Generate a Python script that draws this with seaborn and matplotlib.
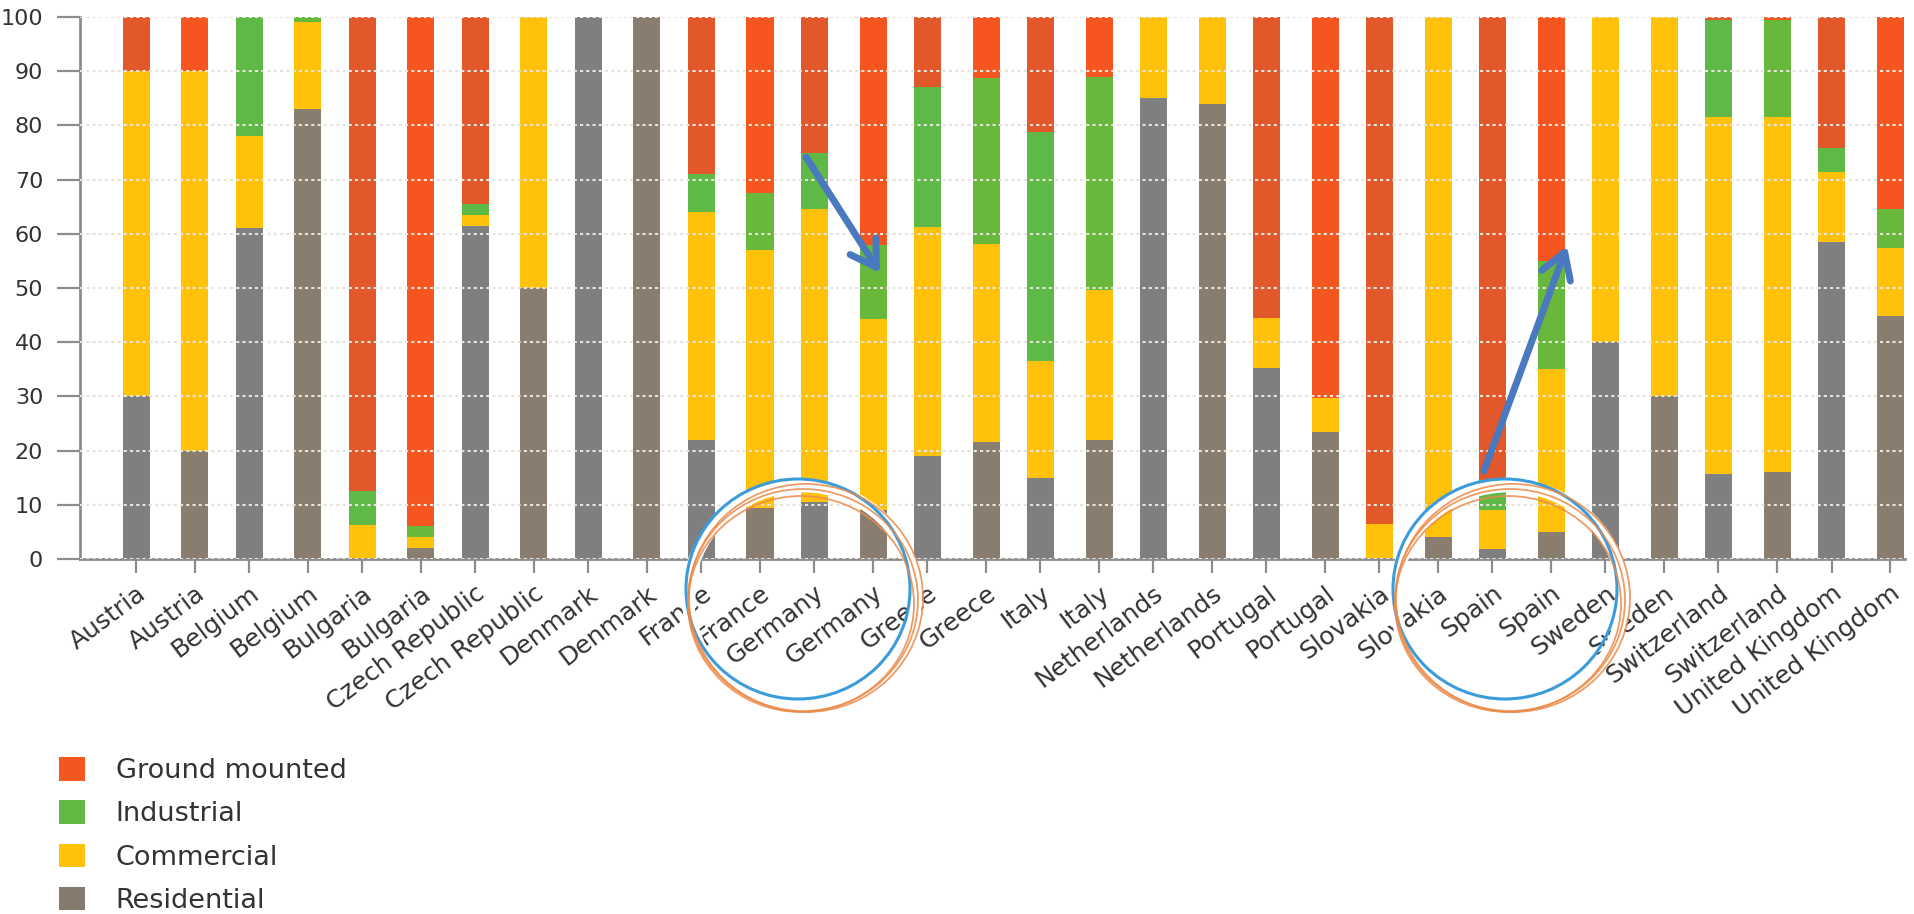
import numpy as np
import pandas as pd
import matplotlib
matplotlib.use("Agg")
import matplotlib.pyplot as plt
import matplotlib.transforms as mtransforms
import seaborn as sns
from matplotlib.patches import Patch, Ellipse, FancyArrowPatch

# ---------------- data ----------------
countries = ["Austria", "Belgium", "Bulgaria", "Czech Republic", "Denmark",
             "France", "Germany", "Greece", "Italy", "Netherlands", "Portugal",
             "Slovakia", "Spain", "Sweden", "Switzerland", "United Kingdom"]
bar_labels = [c for c in countries for _ in range(2)]

residential = [30, 20, 61, 83, 0, 2, 61.5, 50, 100, 100, 22, 9.5, 10.5, 9,
               19, 21.5, 15, 22, 85, 84, 35.3, 23.4, 0, 4, 1.8, 5, 40, 30,
               15.7, 16, 58.4, 44.8]
commercial = [60, 70, 17, 16, 6.3, 2, 2, 50, 0, 0, 42, 47.5, 54, 35.3,
              42.2, 36.7, 21.5, 27.6, 15, 16, 9.1, 6.3, 6.5, 96, 7.2, 30, 60, 70,
              65.9, 65.6, 13, 12.5]
industrial = [0, 0, 22, 1, 6.2, 2, 2, 0, 0, 0, 7, 10.5, 10.5, 13.7,
              25.8, 30.6, 42.2, 39.4, 0, 0, 0, 0, 0, 0, 5.5, 20, 0, 0,
              17.9, 17.9, 4.5, 7.3]
ground = [10, 10, 0, 0, 87.5, 94, 34.5, 0, 0, 0, 29, 32.5, 25, 42,
          13, 11.2, 21.3, 11, 0, 0, 55.6, 70.3, 93.5, 0, 85.5, 45, 0, 0,
          0.5, 0.5, 24.1, 35.4]
series_names = ["Ground mounted", "Industrial", "Commercial", "Residential"]

# ---------------- styling ----------------
sns.set_theme(style="white")
plt.rcParams["font.family"] = ["DejaVu Sans"]

colA = {"Ground mounted": "#E2582A", "Industrial": "#5EB947",
        "Commercial": "#FFC10A", "Residential": "#7F7F80"}
colB = {"Ground mounted": "#F5561F", "Industrial": "#67B83B",
        "Commercial": "#FFC10A", "Residential": "#897D70"}
legend_cols = {"Ground mounted": "#F4561F", "Industrial": "#62B840",
               "Commercial": "#FFC10A", "Residential": "#857A6E"}
text_col = "#333333"

W, H = 1915, 914
fig = plt.figure(figsize=(W / 100, H / 100), dpi=100)
ax = fig.add_axes([80 / W, 1 - 559 / H, (1905 - 80) / W, (559 - 17) / H])

pair_offset = 0.52
n = len(bar_labels)
pos = np.array([k + j * pair_offset for k in range(len(countries)) for j in (0, 1)])
chart = ["A" if i % 2 == 0 else "B" for i in range(n)]
bar_id = [f"b{i:02d}" for i in range(n)]

res = np.array(residential, float)
com = np.array(commercial, float)
ind = np.array(industrial, float)
gnd = np.array(ground, float)
df = pd.DataFrame({
    "pos": pos, "bar": bar_id, "chart": chart,
    "Residential": res,
    "Commercial": res + com,
    "Industrial": res + com + ind,
    "Ground mounted": res + com + ind + gnd,
})

bar_w = 0.239
min_gap = np.min(np.diff(np.unique(pos)))
width = bar_w / min_gap

for name in series_names:
    pal = {b: (colA[name] if c == "A" else colB[name]) for b, c in zip(bar_id, chart)}
    sns.barplot(data=df, x="pos", y=name, hue="bar", palette=pal,
                native_scale=True, dodge=False, width=width, saturation=1,
                legend=False, errorbar=None, linewidth=0, ax=ax)

ax.set_xlim(-0.496, 15.65)
ax.set_ylim(0, 100)
ax.set_xlabel("")
ax.set_ylabel("")
ax.set_yticks(np.arange(0, 101, 10))
ax.set_xticks(pos)
ax.set_xticklabels(bar_labels, rotation=37, ha="right", rotation_mode="anchor",
                   fontsize=18, color=text_col)
shift = mtransforms.ScaledTranslation(9 / 100, -2 / 100, fig.dpi_scale_trans)
for lab in ax.get_xticklabels():
    lab.set_transform(lab.get_transform() + shift)
ax.tick_params(axis="y", labelsize=16, labelcolor=text_col, length=16.5,
               width=1.6, color="#8c8c8c", pad=10, left=True)
ax.tick_params(axis="x", length=10, width=1.6, color="#8c8c8c", pad=6,
               bottom=True, direction="out")
for s in ("top", "right"):
    ax.spines[s].set_visible(False)
for s in ("left", "bottom"):
    ax.spines[s].set_color("#8c8c8c")
    ax.spines[s].set_linewidth(2)

ax.set_axisbelow(False)
ax.yaxis.grid(True, color="#e6e4dc", linestyle=(0, (1.5, 1.5)), linewidth=1.5)
ax.xaxis.grid(False)

handles = [Patch(facecolor=legend_cols[nm], edgecolor="none") for nm in series_names]
fig.legend(handles, series_names, loc="upper left",
           bbox_to_anchor=(59 / W, 1 - 757 / H), frameon=False, fontsize=19.5,
           handlelength=0.96, handleheight=0.96, handletextpad=1.14,
           labelspacing=0.6, borderpad=0, borderaxespad=0,
           labelcolor=text_col)

# ---------------- hand-drawn style annotations ----------------
def fx(px):
    return px / W

def fy(py):
    return 1 - py / H

for cx in (798, 1505):
    fig.add_artist(Ellipse((fx(cx + 4), fy(597)), 228 / W, 222 / H,
                           transform=fig.transFigure, fill=False,
                           ec="white", lw=9, zorder=5))
    fig.add_artist(Ellipse((fx(cx), fy(589)), 224 / W, 220 / H,
                           transform=fig.transFigure, fill=False,
                           ec="#3C9BDB", lw=2.2, zorder=6))
    for dx, dy, dw, dh in [(5, 600, 230, 222), (3, 604, 226, 216), (8, 598, 234, 228)]:
        fig.add_artist(Ellipse((fx(cx + dx), fy(dy)), dw / W, dh / H,
                               transform=fig.transFigure, fill=False,
                               ec="#EB8B4A", lw=1.3, alpha=0.85, zorder=6))

for (x0, y0), (x1, y1) in [((806, 157), (880, 273)), ((1484, 471), (1567, 246))]:
    fig.add_artist(FancyArrowPatch((fx(x0), fy(y0)), (fx(x1), fy(y1)),
                                   transform=fig.transFigure,
                                   arrowstyle="->,head_length=0.9,head_width=0.55",
                                   mutation_scale=20, lw=5, color="#4A79BF",
                                   shrinkA=0, shrinkB=0, zorder=7))

fig.savefig("out.png", dpi=100, facecolor="white")
